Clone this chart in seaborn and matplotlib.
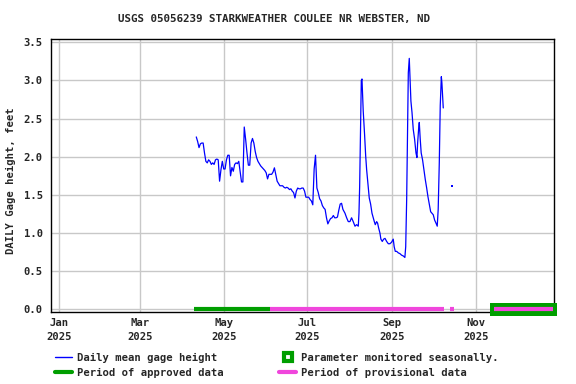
import numpy as np
import pandas as pd
import matplotlib
matplotlib.use("Agg")
import matplotlib.pyplot as plt
import matplotlib.dates as mdates
from matplotlib.lines import Line2D
from matplotlib.patches import Rectangle
import seaborn as sns

TITLE = "USGS 05056239 STARKWEATHER COULEE NR WEBSTER, ND"
YLABEL = "DAILY Gage height, feet"
YEAR_START = "2025-01-01"

# day of year (0 = Jan 1, 2025) and daily mean gage height
day_of_year = [
    100, 101, 102, 103, 104, 105, 106, 107, 108, 109, 110, 111, 112, 113, 114, 115, 116,
    117, 118, 119, 120, 121, 122, 123, 124, 125, 126, 127, 128, 129, 130, 131, 132, 133,
    134, 135, 136, 137, 138, 139, 140, 141, 142, 143, 144, 145, 146, 147, 148, 149, 150,
    151, 152, 153, 154, 155, 156, 157, 158, 159, 160, 161, 162, 163, 164, 165, 166, 167,
    168, 169, 170, 171, 172, 173, 174, 175, 176, 177, 178, 179, 180, 181, 182, 183, 184,
    185, 186, 187, 188, 189, 190, 191, 192, 193, 194, 195, 196, 197, 198, 199, 200, 201,
    202, 203, 204, 205, 206, 207,
    208.5, 209.7, 210.9, 212.1, 213.3, 214.5, 215.8, 217, 218.2, 218.7, 219.2, 219.9,
    220.4, 220.9, 221.8, 222.8, 223.6, 224.3, 225.5, 226.2, 227.2, 228.2, 229.1, 229.9,
    230.6, 231.6, 232.3, 233, 234, 234.7, 235.7, 236.7, 237.7, 238.9, 240.1, 241.3,
    242.5, 243.7, 244.4, 245.2, 246.2, 247.4, 248.6, 249.8, 251, 252.2, 252.8, 253.5,
    254.2, 254.7, 255.4, 255.9, 256.6, 257.4, 258.3, 259.3, 260.3, 261, 261.5, 262.2,
    262.7, 263.4, 264.1, 265.1, 266.1, 267.1, 268.1, 269, 270, 271, 272.9, 273.9,
    274.9, 275.8, 276.5, 277.3, 278, 278.8, 279.2, 279.8, 280.2,
]
gage_height = [
    2.26, 2.20, 2.12, 2.17, 2.18, 2.18, 2.05, 1.94, 1.92, 1.96, 1.94, 1.90, 1.92, 1.90, 1.96, 1.97, 1.96,
    1.68, 1.83, 1.94, 1.84, 1.84, 1.96, 2.02, 2.02, 1.75, 1.86, 1.81, 1.90, 1.92, 1.91, 1.94, 1.80, 1.67,
    1.67, 2.39, 2.23, 2.05, 1.89, 1.89, 2.18, 2.24, 2.18, 2.07, 1.99, 1.94, 1.91, 1.88, 1.86, 1.84, 1.82,
    1.79, 1.71, 1.77, 1.77, 1.77, 1.80, 1.855, 1.77, 1.68, 1.65, 1.62, 1.62, 1.62, 1.60, 1.59, 1.60, 1.59,
    1.57, 1.58, 1.55, 1.53, 1.46, 1.55, 1.59, 1.58, 1.58, 1.59, 1.59, 1.55, 1.47, 1.47, 1.47, 1.44, 1.42,
    1.37, 1.84, 2.02, 1.59, 1.53, 1.45, 1.42, 1.36, 1.33, 1.31, 1.20, 1.12, 1.16, 1.19, 1.20, 1.23, 1.20,
    1.20, 1.21, 1.30, 1.38, 1.39, 1.31,
    1.26, 1.20, 1.15, 1.15, 1.20, 1.15, 1.09, 1.11, 1.09, 1.26, 1.61, 2.40,
    3.00, 3.02, 2.60, 2.29, 2.01, 1.83, 1.59, 1.46, 1.38, 1.26, 1.20, 1.15,
    1.11, 1.15, 1.13, 1.07, 1.00, 0.92, 0.89, 0.92, 0.93, 0.89, 0.86, 0.86,
    0.88, 0.92, 0.82, 0.76, 0.76, 0.74, 0.73, 0.71, 0.70, 0.68, 0.82, 1.44,
    2.36, 3.10, 3.29, 3.05, 2.73, 2.58, 2.36, 2.23, 2.05, 1.99, 2.18, 2.36,
    2.45, 2.23, 2.05, 1.96, 1.83, 1.70, 1.59, 1.48, 1.38, 1.28, 1.24, 1.17,
    1.13, 1.09, 1.31, 1.92, 2.67, 3.05, 2.97, 2.78, 2.64,
]
isolated_day = [286.8]
isolated_height = [1.62]

approved_periods = [("2025-04-09", "2025-06-04")]
provisional_periods = [("2025-06-04", "2025-10-09"), ("2025-10-13", "2025-10-16")]
seasonal_box = ("2025-11-11", "2025-12-30")
seasonal_provisional = ("2025-11-14", "2025-12-27")

tick_dates = ["2025-01-01", "2025-03-01", "2025-05-01", "2025-07-01", "2025-09-01", "2025-11-01"]
tick_labels = ["Jan\n2025", "Mar\n2025", "May\n2025", "Jul\n2025", "Sep\n2025", "Nov\n2025"]
y_ticks = [0.0, 0.5, 1.0, 1.5, 2.0, 2.5, 3.0, 3.5]
x_limits = ("2024-12-26", "2025-12-28")
y_limits = (-0.035, 3.54)

BLUE = "#0000ff"
GREEN = "#009e00"
PINK = "#f046dc"
GRID = "#c8c8c8"
FONT = ["DejaVu Sans Mono"]
FS = 7.6

sns.set_style("white")
plt.rcParams["font.family"] = FONT
plt.rcParams["font.weight"] = "bold"

t0 = pd.Timestamp(YEAR_START)
df = pd.DataFrame({
    "date": t0 + pd.to_timedelta(day_of_year, unit="D"),
    "height": gage_height,
})
iso = pd.DataFrame({
    "date": t0 + pd.to_timedelta(isolated_day, unit="D"),
    "height": isolated_height,
})

fig = plt.figure(figsize=(5.76, 3.84), dpi=100)
ax = fig.add_axes([51 / 576, 1 - 312 / 384, (554 - 51) / 576, (312 - 39.3) / 384])

sns.lineplot(data=df, x="date", y="height", ax=ax, color=BLUE, linewidth=0.9,
             estimator=None, sort=False, legend=False, zorder=3)
sns.scatterplot(data=iso, x="date", y="height", ax=ax, color=BLUE, s=2.5,
                marker="s", linewidth=0, legend=False, zorder=3)

for s, e in approved_periods:
    ax.plot([pd.Timestamp(s), pd.Timestamp(e)], [0, 0], color=GREEN, lw=3.0,
            solid_capstyle="butt", zorder=4)
for s, e in provisional_periods:
    ax.plot([pd.Timestamp(s), pd.Timestamp(e)], [0, 0], color=PINK, lw=3.0,
            solid_capstyle="butt", zorder=4)

bs, be = mdates.date2num(pd.Timestamp(seasonal_box[0])), mdates.date2num(pd.Timestamp(seasonal_box[1]))
ax.add_patch(Rectangle((bs, -0.085), be - bs, 0.172, facecolor=GREEN, edgecolor="none",
                       clip_on=False, zorder=5))
ax.plot([pd.Timestamp(seasonal_provisional[0]), pd.Timestamp(seasonal_provisional[1])], [0, 0],
        color=PINK, lw=3.0, solid_capstyle="butt", zorder=6, clip_on=False)

ax.set_xlim(pd.Timestamp(x_limits[0]), pd.Timestamp(x_limits[1]))
ax.set_ylim(*y_limits)
ax.set_xticks([pd.Timestamp(d) for d in tick_dates])
ax.set_xticklabels(tick_labels, fontsize=FS, fontweight="bold", linespacing=1.45)
ax.set_yticks(y_ticks)
ax.set_yticklabels([f"{v:.1f}" for v in y_ticks], fontsize=FS, fontweight="bold")
ax.tick_params(axis="y", length=0, pad=6)
ax.tick_params(axis="x", length=0, pad=4.5)
ax.grid(True, color=GRID, linewidth=1.0, zorder=0)
ax.set_axisbelow(True)
for sp in ax.spines.values():
    sp.set_color("black")
    sp.set_linewidth(1.0)
ax.set_xlabel("")
ax.set_ylabel("")

fig.text(274 / 576, 1 - 19 / 384, TITLE, ha="center", va="center", fontsize=7.8,
         fontweight="bold")
fig.text(11 / 576, 1 - 181 / 384, YLABEL, ha="center", va="center", rotation=90,
         fontsize=FS, fontweight="bold")

handles = [
    Line2D([0], [0], color=BLUE, lw=1.0),
    Line2D([0], [0], color=GREEN, lw=3.0),
    Line2D([0], [0], linestyle="none", marker="s", markersize=6.0, markerfacecolor="white",
           markeredgecolor=GREEN, markeredgewidth=3.0),
    Line2D([0], [0], color=PINK, lw=3.0),
]
labels = ["Daily mean gage height", "Period of approved data",
          "Parameter monitored seasonally.", "Period of provisional data"]
fig.legend(handles, labels, ncol=2, loc="upper left", bbox_to_anchor=(55 / 576, 1 - 352.5 / 384),
           frameon=False, prop={"family": FONT, "size": FS, "weight": "bold"},
           handlelength=1.6, handletextpad=0.45, columnspacing=5.3, borderaxespad=0,
           borderpad=0, labelspacing=0.48)

fig.savefig("out.png", dpi=100)
